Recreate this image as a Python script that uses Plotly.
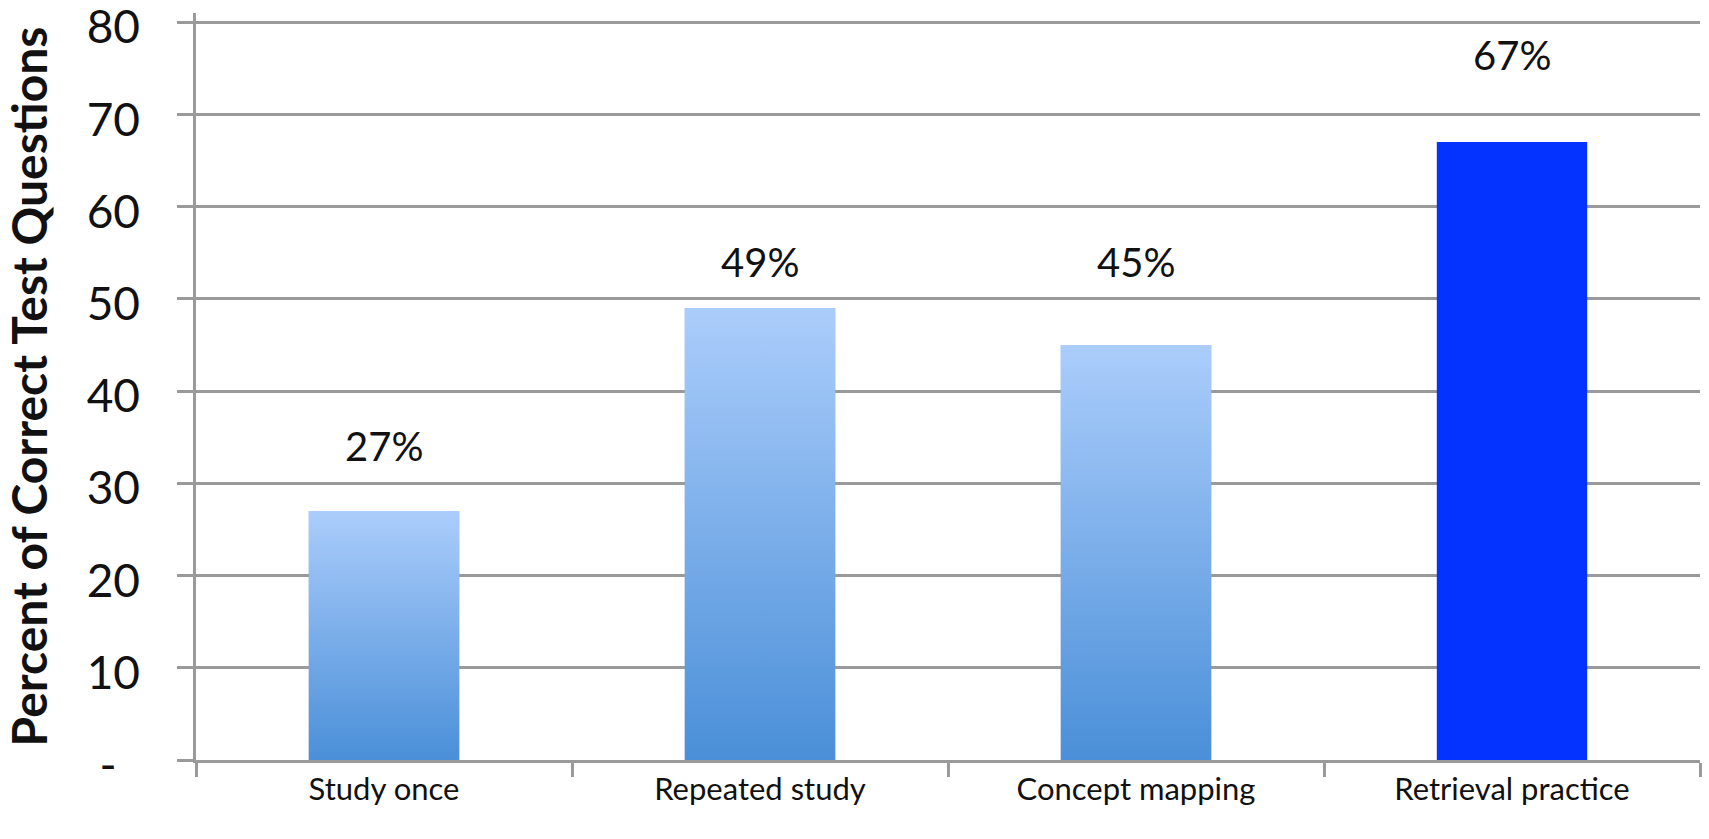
import plotly.graph_objects as go

# ---- data ----
categories = ["Study once", "Repeated study", "Concept mapping", "Retrieval practice"]
values = [27, 49, 45, 67]
value_labels = ["27%", "49%", "45%", "67%"]
# vertical placement (axis units) of the value labels, as in the original slide
label_heights = [34, 54, 54, 76.4]
y_tickvals = [0, 10, 20, 30, 40, 50, 60, 70, 80]
y_ticktext = ["-\u00a0\u00a0", "10", "20", "30", "40", "50", "60", "70", "80"]
highlight = "Retrieval practice"

# ---- style ----
BAR_W = 0.4
GRID = "#9a9a9a"
GRAD_BOTTOM = "#4a8fd8"
GRAD_TOP = "#abcdfb"
HIGHLIGHT = "#0433ff"
FONT = "Lato"

fig = go.Figure()

bar_colors = [HIGHLIGHT if c == highlight else "#76a9ea" for c in categories]
fig.add_trace(go.Bar(
    x=categories, y=values, width=BAR_W,
    marker=dict(color=bar_colors, line=dict(width=0)),
    showlegend=False, hoverinfo="x+y",
))

# gradient fill for the light bars, drawn over the bars on a hidden numeric axis
for i, (c, v) in enumerate(zip(categories, values)):
    if c == highlight:
        continue
    x0, x1 = i - BAR_W / 2, i + BAR_W / 2
    fig.add_trace(go.Scatter(
        x=[x0, x1, x1, x0, x0], y=[0, 0, v, v, 0], xaxis="x2",
        mode="none", fill="toself",
        fillgradient=dict(type="vertical", start=0, stop=v,
                          colorscale=[[0, GRAD_BOTTOM], [1, GRAD_TOP]]),
        hoverinfo="skip", showlegend=False,
    ))

for c, lab, h in zip(categories, value_labels, label_heights):
    fig.add_annotation(x=c, y=h, xref="x", yref="y", text=lab, showarrow=False,
                       font=dict(family=FONT, size=40, color="#111111"))

fig.update_layout(
    width=1709, height=839,
    margin=dict(l=196, r=9, t=13, b=79, autoexpand=False),
    paper_bgcolor="white", plot_bgcolor="white",
    font=dict(family=FONT, color="#111111"),
    bargap=0.6,
    xaxis=dict(
        type="category", range=[-0.5, 3.5], tickson="boundaries",
        ticks="outside", ticklen=14, tickwidth=2.5, tickcolor=GRID,
        showline=True, linecolor=GRID, linewidth=2.5,
        showgrid=False, zeroline=False, automargin=False,
        tickfont=dict(family=FONT, size=31, color="#111111"),
    ),
    xaxis2=dict(overlaying="x", range=[-0.5, 3.5], visible=False),
    yaxis=dict(
        range=[0, 81], tickvals=y_tickvals, ticktext=y_ticktext,
        showgrid=True, gridcolor=GRID, gridwidth=2.5,
        showline=True, linecolor=GRID, linewidth=2.5,
        ticks="outside", ticklen=16, tickwidth=2.5, tickcolor=GRID,
        zeroline=False, ticklabelstandoff=28, ticklabelshift=5,
        ticklabeloverflow="allow", automargin=False,
        tickfont=dict(family=FONT, size=46, color="#111111"),
        title=dict(text="<b>Percent of Correct Test Questions</b>",
                   font=dict(family=FONT, size=48, color="#111111"), standoff=32),
    ),
)

fig.write_html("out.html")
